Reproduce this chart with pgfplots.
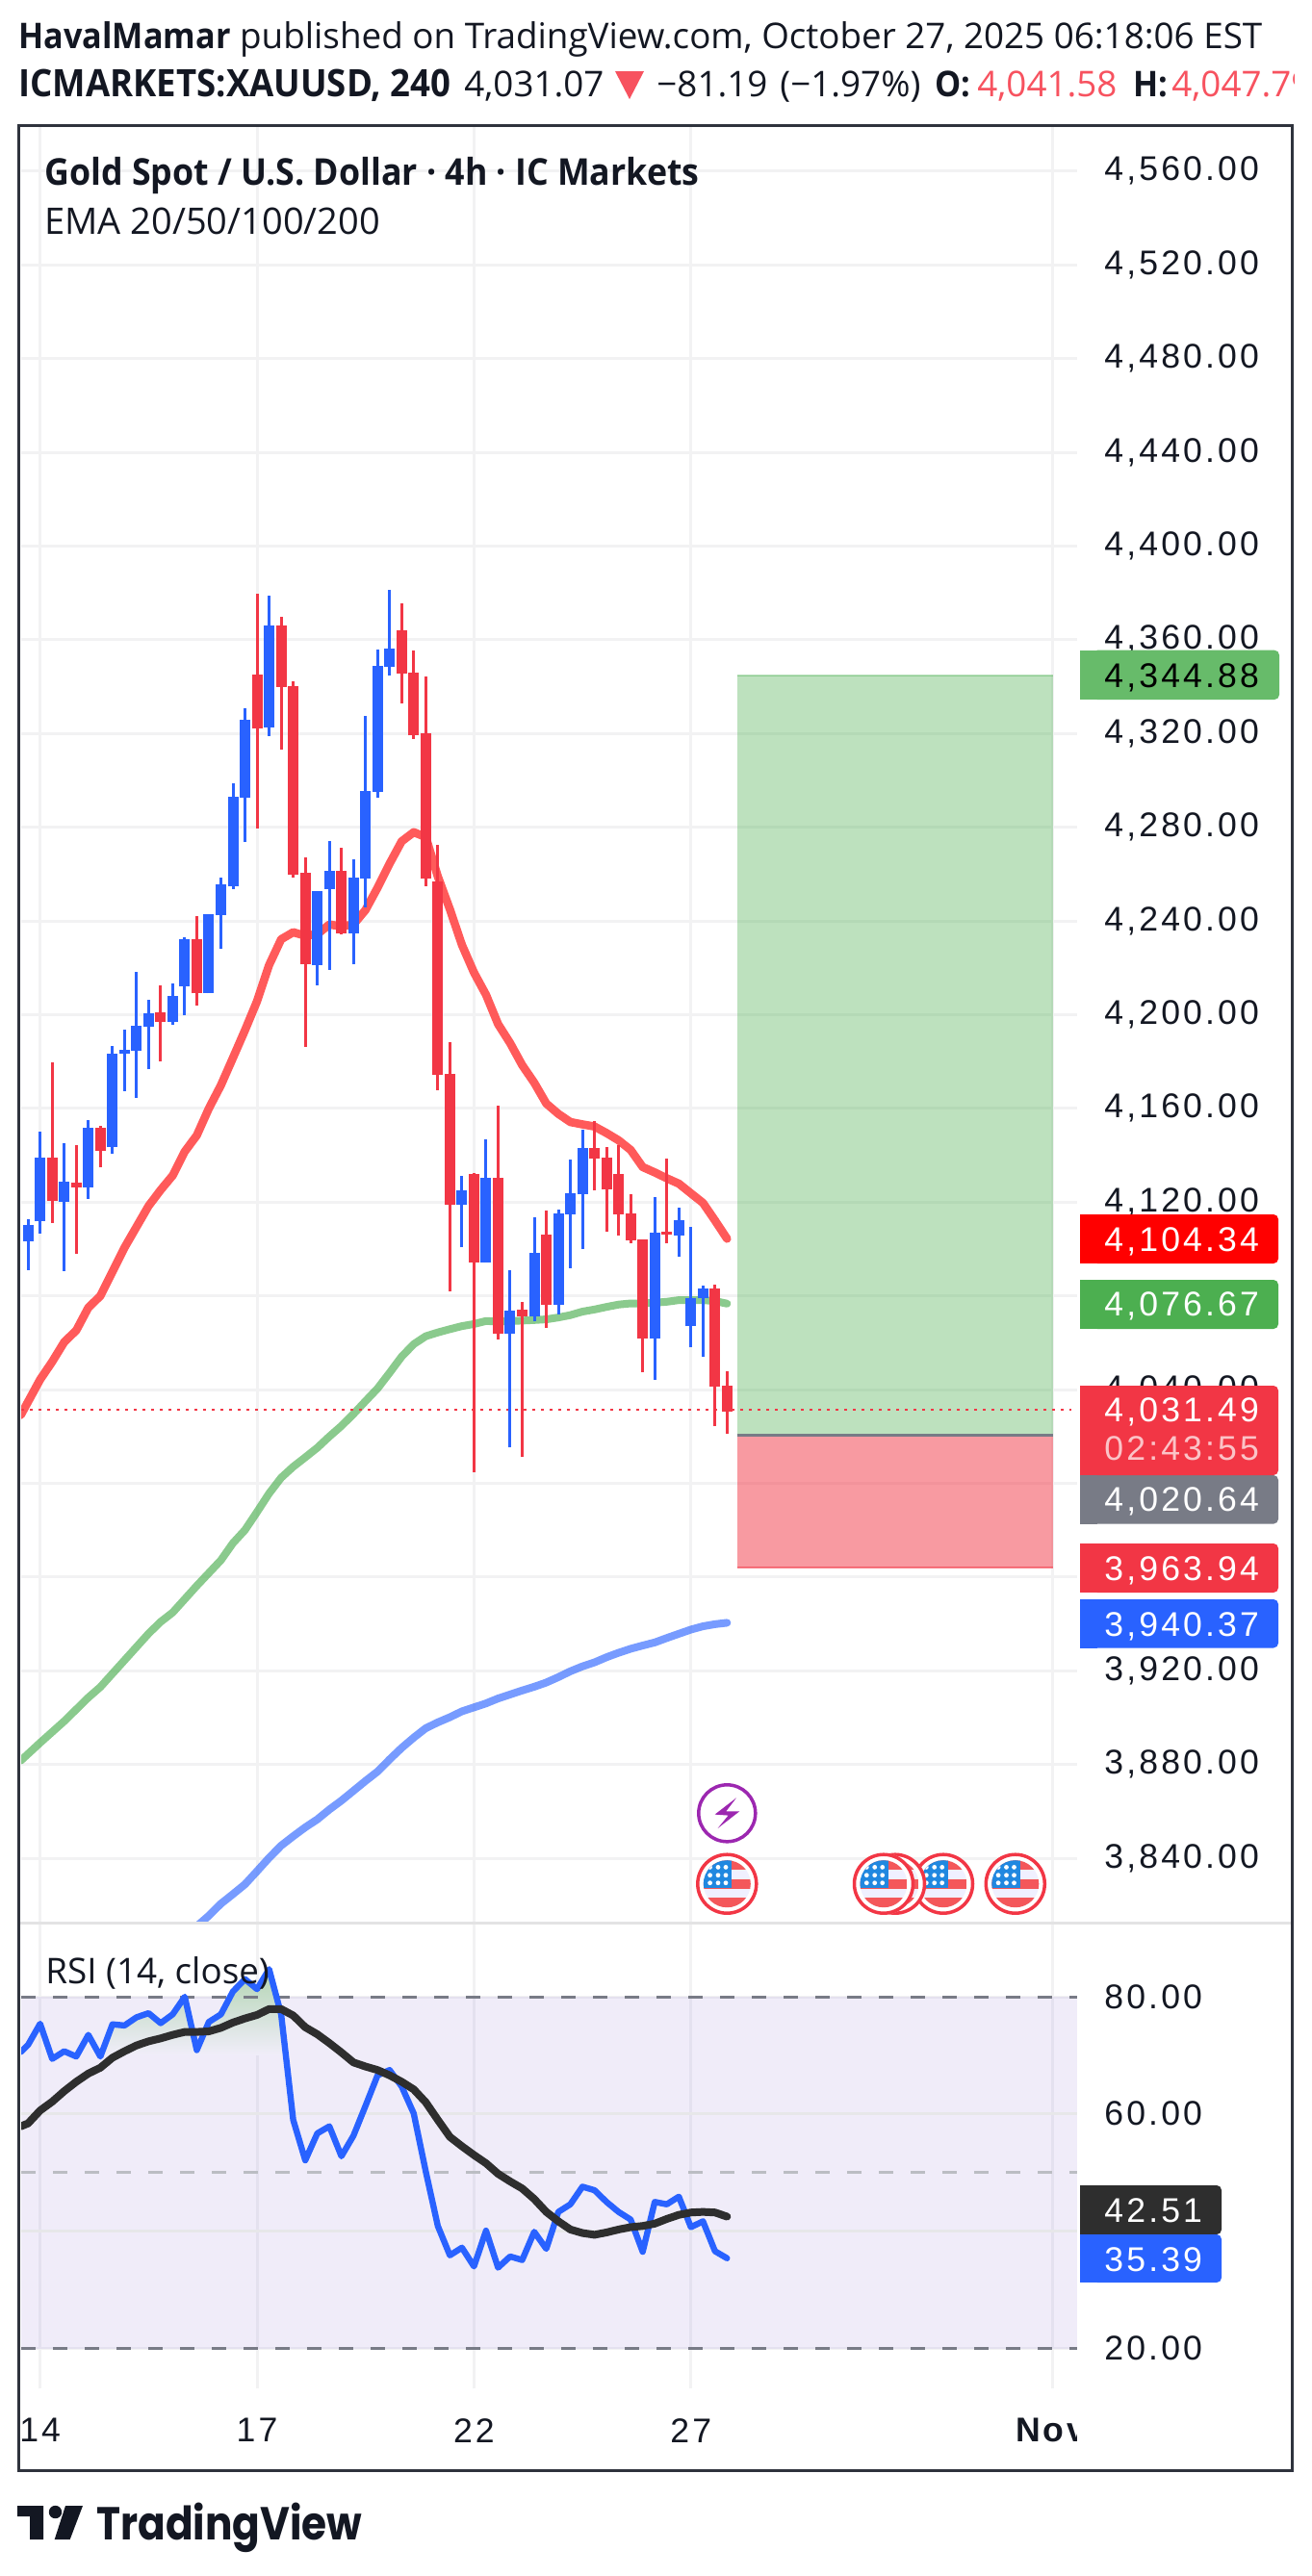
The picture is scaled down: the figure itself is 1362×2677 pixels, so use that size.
\documentclass[border=0pt]{standalone}
\usepackage{fontspec}
\usepackage{pgfplots}
\pgfplotsset{compat=1.18}
\setmainfont[BoldFeatures={FakeStretch=0.93}]{Open Sans}
\newfontfamily\pf[LetterSpace=8.8]{Liberation Sans}
\newfontfamily\logofont[FakeStretch=0.88]{Poppins}
\newcommand{\axf}{\pf\fontsize{17.8pt}{20pt}\selectfont}
\newcommand{\hdf}{\fontsize{18.4pt}{20pt}\selectfont}
\definecolor{TB}{HTML}{2962FF}
\definecolor{TR}{HTML}{F23645}
\definecolor{TG}{HTML}{4CAF50}
\definecolor{TK}{HTML}{131722}
\definecolor{TGY}{HTML}{787B86}
\definecolor{GRD}{HTML}{F2F2F3}
\definecolor{EMR}{HTML}{FF5252}
\definecolor{HRED}{HTML}{F7525F}
\definecolor{BAND}{HTML}{7E60D0}
\definecolor{PUR}{HTML}{9C27B0}
\newcommand{\C}[6]{%
 \addplot[forget plot,line width=1.5pt,color=#6] coordinates {(#1,#5)(#1,#2)};
 \addplot[forget plot,line width=5.5pt,color=#6] coordinates {(#1,#4)(#1,#3)};
}
\newcommand{\lab}[7]{% y1 y2 x2 colour text textcolour ybase
 \fill[#4,rounded corners=2.5pt] (1135,#1) rectangle (#3,#2);
 \fill[#4] (1122,#1) rectangle (1140,#2);
 \node[anchor=base west,inner sep=0pt,text=#6,font=\axf] at (1147,#7) {#5};
}
\newcommand{\flagicon}[2]{%
 \begin{scope}[shift={(#1,#2)}]
 \fill[white] (0,0) circle (32);
 \begin{scope}
 \clip (0,0) circle (24.5);
 \fill[FLW] (-25,-25) rectangle (25,25);
 \fill[FLR] (-25,-25) rectangle (25,-14.5);
 \fill[FLR] (-25,-4.5) rectangle (25,5.5);
 \fill[FLR] (-25,14) rectangle (25,25);
 \fill[FLB] (-25,-25) rectangle (5,4.5);
 \foreach \yy in {-17.3,-9,-1}{\foreach \xx in {-17.7,-9.3,-1.3}{\fill[white] (\xx,\yy) circle (2.4);}}
 \end{scope}
 \draw[line width=1.75pt,TR] (0,0) circle (30.5);
 \end{scope}}
\colorlet{FLW}{white!94!blue}
\definecolor{FLR}{HTML}{F4575A}
\definecolor{FLB}{HTML}{2188E0}
\begin{document}
\begin{tikzpicture}[x=0.5pt,y=-0.5pt]
\path[use as bounding box,fill=white] (0,0) rectangle (1362,2677);
% ---------- price panel
\begin{axis}[
 at={(11pt,-999pt)},anchor=south west,scale only axis,width=548.5pt,height=934pt,
 xmin=-1.573,xmax=86.05,ymin=3812.53,ymax=4579.67,
 axis line style={draw=none},major tick length=0pt,tick style={draw=none},
 xtick={0,18,36,54,84},xticklabels={},
 ytick={3840,3880,3920,3960,4000,4040,4080,4120,4160,4200,4240,4280,4320,4360,4400,4440,4480,4520,4560},
 scaled y ticks=false,ytick pos=right,yticklabel pos=right,
 yticklabel style={/pgf/number format/.cd,fixed,fixed zerofill,precision=2,1000 sep={,},assume math mode=true,
   /tikz/.cd,font=\axf,text=TK,anchor=base west,inner sep=0pt,xshift=14pt,yshift=-5pt},
 grid=major,major grid style={line width=1.5pt,color=GRD},
]
\addplot[forget plot,draw=none,fill=TG,fill opacity=0.37] coordinates {(57.85,4020.64)(84.05,4020.64)(84.05,4344.88)(57.85,4344.88)} -- cycle;
\addplot[forget plot,draw=none,fill=TR,fill opacity=0.5] coordinates {(57.85,3963.94)(84.05,3963.94)(84.05,4020.64)(57.85,4020.64)} -- cycle;
\addplot[forget plot,color=TG,opacity=0.4,line width=1pt] coordinates {(57.85,4344.88)(84.05,4344.88)};
\addplot[forget plot,color=TR,opacity=0.6,line width=1pt] coordinates {(57.85,3963.94)(84.05,3963.94)};
\addplot[forget plot,color=TGY,line width=1.5pt] coordinates {(57.85,4020.64)(84.05,4020.64)};
% EMA 200
\addplot[forget plot,color=TB,opacity=0.63,line width=4pt,line cap=round,line join=round] coordinates {
(13,3811)(14,3815.5)(15,3820.6)(16,3824.7)(17,3828.9)(18,3834.5)(19,3840.2)(20,3845.4)(21,3849.4)(22,3853.2)(23,3856.6)(24,3860.8)(25,3864.6)(26,3868.8)(27,3873)(28,3877)(29,3882.2)(30,3887.1)(31,3891.5)(32,3895.5)(33,3898)(34,3900.2)(35,3902.7)(36,3904.4)(37,3906.1)(38,3908.2)(39,3909.9)(40,3911.6)(41,3913.2)(42,3915)(43,3917.3)(44,3919.8)(45,3921.9)(46,3923.6)(47,3925.8)(48,3927.7)(49,3929.4)(50,3930.8)(51,3932.1)(52,3934)(53,3935.8)(54,3937.6)(55,3939)(56,3939.9)(57,3940.5)};
% EMA 100
\addplot[forget plot,color=TG,opacity=0.65,line width=4pt,line cap=round,line join=round] coordinates {
(-1.6,3881.7)(0,3889.3)(2,3898.5)(4,3908.6)(5,3913.1)(7,3924.5)(9,3935.9)(10,3940.9)(11,3944.9)(13,3956.3)(15,3967.2)(16,3974.5)(17,3980.1)(18,3987.8)(19,3995.7)(20,4002.4)(21,4007.1)(22,4011.1)(23,4015.2)(24,4020)(25,4024.5)(26,4029.6)(27,4035.1)(28,4040.5)(29,4047.2)(30,4054.1)(31,4059.4)(32,4062.8)(33,4064.4)(34,4065.8)(35,4067.1)(36,4068)(37,4069.3)(38,4069)(41,4069.7)(42,4070)(43,4070.8)(44,4071.8)(45,4073.3)(46,4074.2)(47,4075.3)(48,4076.3)(49,4076.8)(50,4076.8)(51,4077.1)(52,4077.5)(53,4078.2)(54,4078.2)(55,4078.2)(56,4077.8)(57,4076.7)};
% EMA 20
\addplot[forget plot,color=EMR,opacity=0.95,line width=4.3pt,line cap=round,line join=round] coordinates {
(-1.6,4029.2)(0,4044.3)(1,4051.9)(2,4060.3)(3,4065.3)(4,4075)(5,4080)(6,4090.3)(7,4100.6)(8,4109.5)(9,4118.4)(10,4125.2)(11,4131.4)(12,4141.6)(13,4148.5)(14,4160)(15,4169.9)(16,4181.6)(17,4193.4)(18,4205.8)(19,4221.2)(20,4232.2)(21,4235.2)(22,4233.7)(23,4234.4)(24,4238.5)(25,4237.7)(26,4238.5)(27,4244.7)(28,4254.2)(29,4264.5)(30,4274)(31,4277.9)(32,4275.8)(33,4259)(34,4245)(35,4229.8)(36,4218)(37,4208.5)(38,4196)(39,4187.9)(40,4178.5)(41,4171)(42,4162.1)(43,4157.7)(44,4154.2)(45,4153.2)(46,4152.3)(47,4149.5)(48,4146.4)(49,4142.3)(50,4135)(51,4132.7)(52,4130.2)(53,4127.9)(54,4123.8)(55,4119.7)(56,4112.2)(57,4104.4)};
% last price
\addplot[forget plot,color=TR,line width=1.25pt,dash pattern=on 1.5pt off 3pt] coordinates {(-1.57,4031.49)(85.57,4031.49)};
% candles: index, high, body top, body bottom, low, colour
\C{-1}{4112.7}{4110.3}{4103.3}{4091}{TB}
\C{0}{4150.1}{4139}{4111.9}{4106.6}{TB}
\C{1}{4179.7}{4139}{4120.6}{4111.1}{TR}
\C{2}{4145.2}{4128.8}{4120.1}{4090.6}{TB}
\C{3}{4144.4}{4128.4}{4126.3}{4098}{TR}
\C{4}{4155}{4151.8}{4126.3}{4121.4}{TB}
\C{5}{4152.6}{4151.8}{4141.9}{4134.9}{TR}
\C{6}{4186.7}{4183.4}{4143.5}{4140.7}{TB}
\C{7}{4193.7}{4185}{4183.4}{4167.4}{TB}
\C{8}{4218.3}{4195.3}{4184.6}{4164.5}{TB}
\C{9}{4206.4}{4200.7}{4194.8}{4176.8}{TB}
\C{10}{4212.6}{4201}{4196.9}{4180.2}{TR}
\C{11}{4213.3}{4208}{4196.9}{4195.7}{TB}
\C{12}{4233.1}{4232.2}{4212.1}{4199.8}{TB}
\C{13}{4242.1}{4232.2}{4209.1}{4203.9}{TR}
\C{14}{4242.9}{4242.9}{4209.2}{4209.2}{TB}
\C{15}{4258.5}{4255.7}{4242.5}{4228.1}{TB}
\C{16}{4298.8}{4293.1}{4254.8}{4253.6}{TB}
\C{17}{4330.8}{4326}{4292.7}{4273.7}{TB}
\C{18}{4379.6}{4345.2}{4322.1}{4279.5}{TR}
\C{19}{4378.9}{4366.1}{4322.6}{4318.9}{TB}
\C{20}{4369.8}{4366.1}{4339.9}{4313.2}{TR}
\C{21}{4342.4}{4340.3}{4259.8}{4258.5}{TR}
\C{22}{4267.1}{4260.5}{4221.5}{4186.3}{TR}
\C{23}{4252.8}{4252.8}{4221.2}{4212.6}{TB}
\C{24}{4274.2}{4261.4}{4253.6}{4219.2}{TB}
\C{25}{4271.2}{4261.4}{4234.7}{4234.3}{TR}
\C{26}{4266.4}{4258.5}{4234.7}{4221.5}{TB}
\C{27}{4327.6}{4295.4}{4258.2}{4245.9}{TB}
\C{28}{4355.9}{4348.8}{4295.2}{4292.7}{TB}
\C{29}{4381.4}{4356.3}{4348.5}{4344.7}{TB}
\C{30}{4375.5}{4364.1}{4345.6}{4332.8}{TR}
\C{31}{4355.5}{4346}{4319.3}{4317.7}{TR}
\C{32}{4344.4}{4320.2}{4258}{4255}{TR}
\C{33}{4272.5}{4257}{4174.4}{4167.9}{TR}
\C{34}{4188.3}{4174.7}{4118.9}{4081.9}{TR}
\C{35}{4131.2}{4125}{4118.9}{4100.8}{TB}
\C{36}{4132.4}{4132}{4094.2}{4004.7}{TR}
\C{37}{4146.8}{4130.4}{4094.2}{4094.2}{TB}
\C{38}{4161.2}{4130.4}{4063.8}{4061.4}{TR}
\C{39}{4090.9}{4073.7}{4063.8}{4015.4}{TB}
\C{40}{4077.4}{4074.1}{4071.2}{4011.3}{TR}
\C{41}{4113.5}{4098.3}{4071.2}{4069.2}{TB}
\C{42}{4116.4}{4106.1}{4076.2}{4066.3}{TR}
\C{43}{4116.8}{4115.2}{4076.2}{4072}{TB}
\C{44}{4138.2}{4123.8}{4114.8}{4091.8}{TB}
\C{45}{4150.9}{4143.1}{4123.4}{4100}{TB}
\C{46}{4154.6}{4143.1}{4138.6}{4125}{TR}
\C{47}{4143.5}{4139}{4125.4}{4107.4}{TR}
\C{48}{4144.3}{4132}{4114.8}{4105.7}{TR}
\C{49}{4123.4}{4115.2}{4103.7}{4102.4}{TR}
\C{50}{4104.1}{4104.1}{4061.8}{4047.4}{TR}
\C{51}{4122.1}{4107}{4061.8}{4044.1}{TB}
\C{52}{4138.6}{4107.4}{4106.1}{4102.4}{TR}
\C{53}{4117.6}{4112.3}{4105.7}{4096.7}{TB}
\C{54}{4109.4}{4079}{4067.1}{4058.1}{TB}
\C{55}{4084.4}{4083.1}{4079}{4054}{TB}
\C{56}{4084.8}{4083.1}{4041.2}{4024.4}{TR}
\C{57}{4047.8}{4041.7}{4030.6}{4021.1}{TR}
\end{axis}
% ---------- RSI panel
\begin{axis}[
 at={(11pt,-1241pt)},anchor=south west,scale only axis,width=548.5pt,height=242pt,
 xmin=-1.573,xmax=86.05,ymin=13.2,ymax=92.64,
 axis line style={draw=none},major tick length=0pt,tick style={draw=none},
 xtick={0,18,36,54,84},xticklabels={14,17,22,27,\textbf{Nov}},
 ytick={20,40,60,80},
 ytick pos=right,yticklabel pos=right,
 yticklabel style={/pgf/number format/.cd,fixed,fixed zerofill,precision=2,assume math mode=true,
   /tikz/.cd,font=\axf,text=TK,anchor=base west,inner sep=0pt,xshift=14pt,yshift=-6pt},
 xticklabel style={font=\axf,text=TK,anchor=north,inner sep=0pt,yshift=-15.5pt},
 grid=major,major grid style={line width=1.5pt,color=GRD},
]
\addplot[forget plot,draw=none,fill=BAND,fill opacity=0.115] coordinates {(-1.573,20)(86.05,20)(86.05,80)(-1.573,80)} -- cycle;
\addplot[forget plot,color=TGY!18,line width=1.5pt] coordinates {(-1.573,60)(86.05,60)};
\addplot[forget plot,color=TGY!18,line width=1.5pt] coordinates {(-1.573,40)(86.05,40)};
\addplot[forget plot,draw=none,top color=green!45!black!30!white,bottom color=BAND!11!white] coordinates {
(5.1,70)(6,75.3)(7,75.1)(8,76.5)(9,77.2)(10,75.5)(11,77)(12,80)(13,70.9)(14,75.7)(15,77)(16,80.9)(17,83)(18,81.3)(19,84.7)(20,77)(20.4,70)} -- cycle;
\addplot[forget plot,color=TGY,line width=1.5pt,dash pattern=on 7.5pt off 9pt] coordinates {(-1.573,80)(86.05,80)};
\addplot[forget plot,color=TGY!50!white,line width=1.5pt,dash pattern=on 7.5pt off 9pt] coordinates {(-1.573,50)(86.05,50)};
\addplot[forget plot,color=TGY,line width=1.5pt,dash pattern=on 7.5pt off 9pt] coordinates {(-1.573,20)(86.05,20)};
% RSI
\addplot[forget plot,color=TB,line width=3.2pt,line cap=round,line join=round] coordinates {
(-1.6,70.6)(-1,71.8)(0,75.4)(1,69.4)(2,70.7)(3,69.8)(4,73.5)(5,69.8)(6,75.3)(7,75.1)(8,76.5)(9,77.2)(10,75.5)(11,77)(12,80)(13,70.9)(14,75.7)(15,77)(16,80.9)(17,83)(18,81.3)(19,84.7)(20,77)(21,59)(22,52.1)(23,56.7)(24,57.9)(25,52.8)(26,56.3)(27,61.4)(28,66.6)(29,67.5)(30,64.7)(31,60.1)(32,50.2)(33,40.9)(34,35.9)(35,37.2)(36,34)(37,40.1)(38,33.8)(39,35.7)(40,35.1)(41,39.9)(42,37)(43,43.3)(44,44.6)(45,47.6)(46,47)(47,45)(48,43.3)(49,42)(50,36.5)(51,45)(52,44.6)(53,45.9)(54,40.7)(55,41.7)(56,36.6)(57,35.4)};
% RSI-based MA
\addplot[forget plot,color=black!82,line width=4pt,line cap=round,line join=round] coordinates {
(-1.6,57.9)(-1,58.4)(0,60.6)(1,62.1)(2,63.9)(3,65.5)(4,66.9)(5,67.9)(6,69.6)(7,70.7)(8,71.7)(9,72.4)(10,72.9)(11,73.5)(12,74)(13,74)(14,74.1)(15,74.7)(16,75.6)(17,76.3)(18,76.9)(19,77.9)(20,77.9)(21,76.8)(22,74.8)(23,73.6)(24,72.1)(25,70.5)(26,68.8)(27,68.1)(28,67.5)(29,66.6)(30,65.5)(31,64.2)(32,62)(33,59)(34,56.1)(35,54.5)(36,53)(37,51.6)(38,49.8)(39,48.5)(40,47.3)(41,45.5)(42,43.3)(43,41.7)(44,40.3)(45,39.7)(46,39.4)(47,39.8)(48,40.3)(49,40.7)(50,40.9)(51,41.3)(52,42.1)(53,42.8)(54,43.2)(55,43.3)(56,43.2)(57,42.5)};
\end{axis}
% separators, cover for the clipped label
\fill[white] (1119,2490) rectangle (1338,2560);
\draw[line width=1.5pt,color=TK!12!white] (21,1998) -- (1341,1998);
% event icons
\begin{scope}[shift={(755.3,1884.3)}]
\fill[white] (0,0) circle (31);
\draw[line width=1.75pt,color=PUR] (0,0) circle (29.5);
\fill[PUR] (9.7,-16)--(-12.7,1.3)--(1.3,2.3)--(-9.7,15.7)--(13,-2)--(-1,-2)--cycle;
\end{scope}
\flagicon{1054.8}{1957.7}
\flagicon{980}{1957.7}
\flagicon{930}{1957.7}
\flagicon{918}{1957.7}
\flagicon{755.3}{1957.7}
% price labels
\lab{675.7}{727}{1329}{TG!85!white}{4,344.88}{black}{714}
\lab{1262}{1313}{1328}{red}{4,104.34}{white}{1300}
\lab{1330}{1381}{1328}{TG}{4,076.67}{white}{1367.5}
\lab{1533}{1583.6}{1328}{TGY}{4,020.64}{white}{1570.5}
\lab{1440}{1533}{1328}{TR}{4,031.49}{white}{1477.5}
\node[anchor=base west,inner sep=0pt,text=white,opacity=0.7,font=\axf] at (1147,1517.5) {02:43:55};
\lab{1604}{1655}{1328}{TR}{3,963.94}{white}{1642}
\lab{1662}{1712.5}{1328}{TB}{3,940.37}{white}{1700}
\lab{2271}{2322}{1269}{black!82}{42.51}{white}{2309}
\lab{2322}{2372}{1269}{TB}{35.39}{white}{2360}
% frame
\draw[line width=1.5pt,color=TK!88!white] (19.7,130.5) rectangle (1342.5,2567);
% header
\node[anchor=base west,inner sep=0pt,text=TK,font=\hdf] at (19,50) {\textbf{HavalMamar} published on TradingView.com, October 27, 2025 06:18:06 EST};
\node[anchor=base west,inner sep=0pt,text=TK,font=\fontsize{19.65pt}{20pt}\selectfont] at (19,100.7) {\textbf{ICMARKETS:XAUUSD, 240}};
\node[anchor=base west,inner sep=0pt,text=TK,font=\hdf] at (482,100.7) {4,031.07};
\fill[HRED] (639,74)--(669,74)--(654,103)--cycle;
\node[anchor=base west,inner sep=0pt,text=TK,font=\hdf] at (682,100.7) {−81.19};
\node[anchor=base west,inner sep=0pt,text=TK,font=\hdf] at (810,100.7) {(−1.97\%)};
\node[anchor=base west,inner sep=0pt,text=TK,font=\hdf] at (971,100.7) {\textbf{O:}};
\node[anchor=base west,inner sep=0pt,text=HRED,font=\hdf] at (1015,100.7) {4,041.58};
\node[anchor=base west,inner sep=0pt,text=TK,font=\hdf] at (1177,100.7) {\textbf{H:}};
\begin{scope}
\clip (1200,60) rectangle (1344,120);
\node[anchor=base west,inner sep=0pt,text=HRED,font=\hdf] at (1217,100.7) {4,047.79};
\end{scope}
\node[anchor=base west,inner sep=0pt,text=TK,font=\fontsize{19.2pt}{20pt}\selectfont] at (46,192.7) {\textbf{Gold Spot / U.S. Dollar · 4h · IC Markets}};
\node[anchor=base west,inner sep=0pt,text=TK,font=\fontsize{19pt}{20pt}\selectfont] at (46,243) {EMA 20/50/100/200};
\node[anchor=base west,inner sep=0pt,text=TK,font=\hdf] at (47,2061.7) {RSI (14, close)};
% logo
\fill[TK] (18,2604) rectangle (45,2615) (31,2615) rectangle (45,2639);
\fill[TK] (57.5,2610.5) circle (6.7);
\fill[TK] (68,2604)--(86,2604)--(72.7,2639)--(56.7,2639)--cycle;
\node[anchor=base west,inner sep=0pt,text=TK,font=\logofont\fontsize{24pt}{28pt}\selectfont\bfseries] at (100,2639) {TradingView};
\end{tikzpicture}
\end{document}
